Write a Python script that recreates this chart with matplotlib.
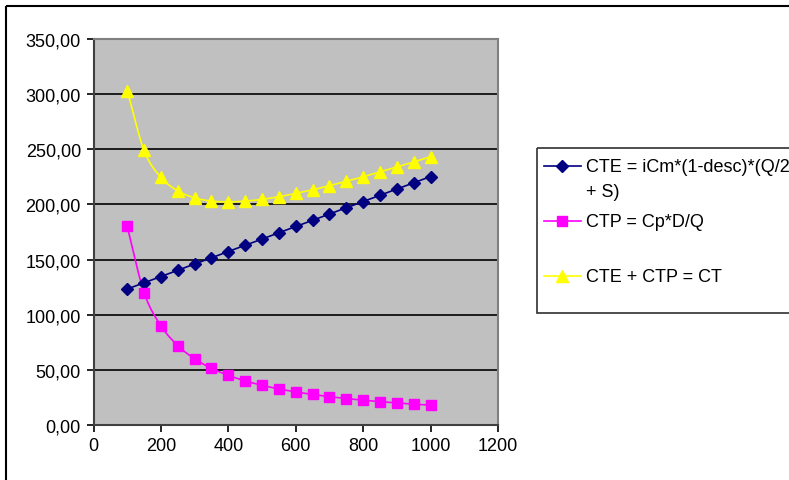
import numpy as np
import matplotlib.pyplot as plt
from matplotlib.lines import Line2D
from matplotlib.patches import Rectangle
from matplotlib.ticker import FuncFormatter

plt.rcParams['font.family'] = ['Liberation Sans', 'DejaVu Sans']

# lot size Q
q = [100, 150, 200, 250, 300, 350, 400, 450, 500, 550,
     600, 650, 700, 750, 800, 850, 900, 950, 1000]
# storage cost
cte = [123.3, 129.0, 134.6, 140.3, 146.0, 151.6, 157.3, 163.0, 168.6, 174.3,
       180.0, 185.6, 191.3, 197.0, 202.6, 208.3, 214.0, 219.6, 225.3]
# ordering cost
ctp = [180.0, 120.0, 90.0, 72.0, 60.0, 51.4, 45.0, 40.0, 36.0, 32.7,
       30.0, 27.7, 25.7, 24.0, 22.5, 21.2, 20.0, 18.9, 18.0]
# total cost
ct = [303.3, 249.0, 224.6, 212.3, 206.0, 203.0, 202.3, 203.0, 204.6, 207.0,
      210.0, 213.3, 217.0, 221.0, 225.1, 229.5, 234.0, 238.5, 243.3]

labels = ['CTE = iCm*(1-desc)*(Q/2\n+ S)', 'CTP = Cp*D/Q', 'CTE + CTP = CT']
colors = ['#000080', '#FF00FF', '#FFFF00']
markers = ['D', 's', '^']
msizes = [6, 7, 8.5]


def smooth(x, y, n=12):
    # Catmull-Rom curve through the points, like a smoothed line in a spreadsheet
    x = np.asarray(x, float)
    y = np.asarray(y, float)
    px = np.concatenate([[2 * x[0] - x[1]], x, [2 * x[-1] - x[-2]]])
    py = np.concatenate([[2 * y[0] - y[1]], y, [2 * y[-1] - y[-2]]])
    xs, ys = [], []
    t = np.linspace(0, 1, n, endpoint=False)
    for i in range(1, len(px) - 2):
        for p, out in ((px, xs), (py, ys)):
            p0, p1, p2, p3 = p[i - 1], p[i], p[i + 1], p[i + 2]
            out.extend(0.5 * ((2 * p1) + (-p0 + p2) * t
                              + (2 * p0 - 5 * p1 + 4 * p2 - p3) * t ** 2
                              + (-p0 + 3 * p1 - 3 * p2 + p3) * t ** 3))
    xs.append(x[-1])
    ys.append(y[-1])
    return xs, ys


W, H = 789, 481
fig = plt.figure(figsize=(W / 100, H / 100), dpi=100)
ax = fig.add_axes([93.5 / W, (H - 426) / H, (498 - 93.5) / W, (426 - 40) / H])
ax.set_facecolor('#C0C0C0')

for ys, c, m, ms in zip([cte, ctp, ct], colors, markers, msizes):
    sx, sy = smooth(q, ys)
    ax.plot(sx, sy, color=c, lw=1.2, zorder=3)
    ax.plot(q, ys, linestyle='none', marker=m, ms=ms, color=c, zorder=4)

ax.set_xlim(0, 1200)
ax.set_ylim(0, 350)
ax.set_xticks(range(0, 1201, 200))
ax.set_yticks(range(0, 351, 50))
ax.yaxis.set_major_formatter(FuncFormatter(lambda v, p: f'{v:.2f}'.replace('.', ',')))
ax.grid(axis='y', color='black', lw=1.2)
ax.set_axisbelow(True)
ax.tick_params(labelsize=13, length=5, width=1.2, direction='out', pad=4)
for s in ['top', 'right']:
    ax.spines[s].set_color('#808080')
    ax.spines[s].set_linewidth(1.5)
for s in ['left', 'bottom']:
    ax.spines[s].set_color('#404040')
    ax.spines[s].set_linewidth(1.5)

# overlay in pixel coordinates for the frame and legend
ov = fig.add_axes([0, 0, 1, 1], facecolor='none')
ov.set_xlim(0, W)
ov.set_ylim(H, 0)
ov.axis('off')
ov.add_patch(Rectangle((6, 7), W, H, fill=False, ec='black', lw=1.5))
ov.add_patch(Rectangle((537, 149), W, 165, fill=False, ec='#303030', lw=1.2))

entry_y = [167, 222, 277]
for lab, c, m, ms, ey in zip(labels, colors, markers, msizes, entry_y):
    ov.add_line(Line2D([544, 581], [ey, ey], color=c, lw=1.2))
    ov.plot([562.5], [ey], marker=m, ms=ms, color=c, linestyle='none')
    ov.text(586, ey - 8, lab, fontsize=13, va='top', ha='left', linespacing=1.62)

fig.savefig('out.png', dpi=100)
